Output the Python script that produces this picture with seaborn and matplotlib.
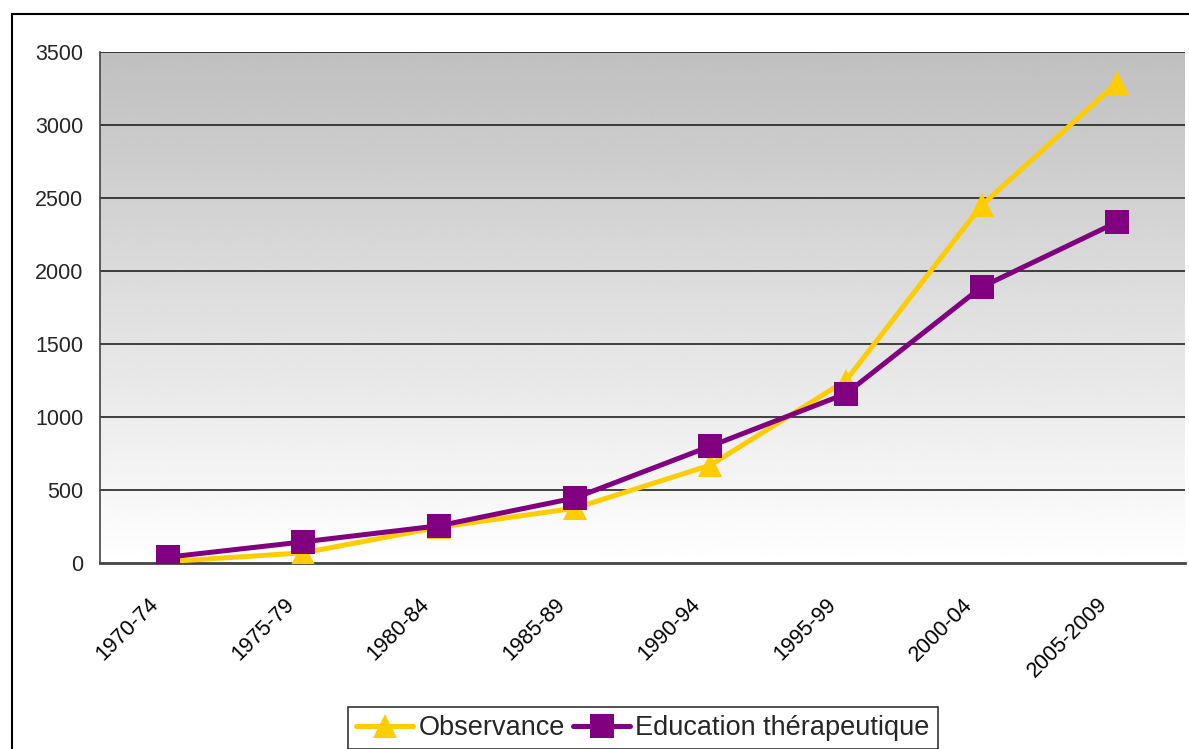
import numpy as np
import pandas as pd
import matplotlib
matplotlib.use('Agg')
import matplotlib.pyplot as plt
import seaborn as sns
from matplotlib.patches import Rectangle

# Données
periodes = ['1970-74', '1975-79', '1980-84', '1985-89', '1990-94', '1995-99', '2000-04', '2005-2009']
observance = [10, 70, 245, 375, 670, 1250, 2450, 3290]
education = [40, 145, 255, 445, 800, 1160, 1890, 2335]
series = ['Observance', 'Education thérapeutique']
couleurs = ['#FFCC00', '#800080']
marqueurs = ['^', 's']

df = pd.DataFrame({
    'Periode': periodes * 2,
    'Valeur': observance + education,
    'Serie': [series[0]] * len(periodes) + [series[1]] * len(periodes),
})

sns.set_style('white')
plt.rcParams['font.family'] = ['Liberation Sans', 'DejaVu Sans']

fig = plt.figure(figsize=(11.89, 7.49), dpi=100)
ax = fig.add_axes([100 / 1189, 1 - 563 / 749, 1085 / 1189, 511 / 749])

# fond en dégradé gris (haut) -> blanc (bas)
grad = np.linspace(0.75, 1.0, 256).reshape(-1, 1)
ax.imshow(grad, cmap='gray', vmin=0, vmax=1, aspect='auto', origin='upper',
          extent=[-0.5, 7.5, 0, 3500], zorder=0)

sns.lineplot(data=df, x='Periode', y='Valeur', hue='Serie', style='Serie',
             palette=couleurs, markers=marqueurs, dashes=False, sort=False,
             linewidth=3.6, markersize=17, markeredgewidth=0, ax=ax, zorder=3)

ax.set_xlim(-0.5, 7.5)
ax.set_ylim(0, 3500)
ax.set_yticks(range(0, 3501, 500))
for v in range(500, 3501, 500):
    ax.axhline(v, color='#222222', lw=1.2, zorder=1)

# étiquettes des catégories (inclinées à 45°)
ax.set_xticks(range(len(periodes)))
ax.set_xticklabels([])
for i, p in enumerate(periodes):
    ax.annotate(p, xy=(i, 0), xycoords=('data', 'axes fraction'),
                xytext=(-20, -31), textcoords='offset pixels',
                ha='right', va='top', rotation=45, rotation_mode='anchor',
                fontsize=15.5, color='black', annotation_clip=False)
ax.set_xticks(np.arange(-0.5, 8, 1), minor=True)
ax.tick_params(axis='x', which='major', length=0)
ax.tick_params(axis='x', which='minor', length=7, width=1, color='#333333', direction='out')
ax.tick_params(axis='y', length=7, width=1, color='#333333', direction='out', labelsize=15.5, pad=5)
ax.set_xlabel('')
ax.set_ylabel('')

for s in ['left', 'bottom']:
    ax.spines[s].set_color('#444444')
ax.spines['bottom'].set_linewidth(2)
ax.spines['left'].set_linewidth(1.2)
ax.spines['top'].set_visible(False)
ax.spines['right'].set_visible(False)

handles, labels = ax.get_legend_handles_labels()
ax.get_legend().remove()
leg = fig.legend(handles, labels, loc='upper center', bbox_to_anchor=(643 / 1189, 1 - 707 / 749),
                 ncol=2, fontsize=19.5, frameon=True, fancybox=False, edgecolor='black',
                 handlelength=2.1, handletextpad=0.2, columnspacing=0.3, borderpad=0.3,
                 borderaxespad=0)
leg.get_frame().set_linewidth(1.2)

# cadre extérieur
fig.patches.append(Rectangle((12 / 1189, -0.1), 1.2, 1.1 - 14 / 749, transform=fig.transFigure,
                             fill=False, edgecolor='black', lw=1.5))

fig.savefig('out.png', dpi=100)
